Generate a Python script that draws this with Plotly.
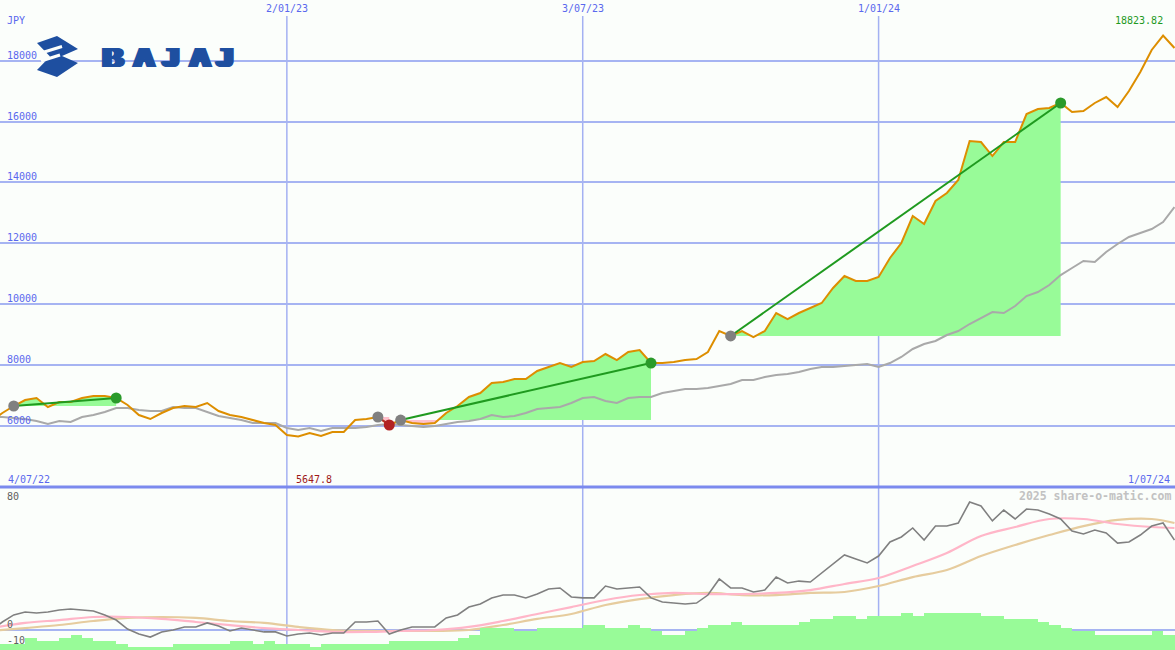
import numpy as np
import pandas as pd
import plotly.graph_objects as go

W, H = 1175, 650

# ---------------- data (weekly) ----------------
start_date = "2022-07-04"
price = [6155, 6418, 6648, 6845, 6911, 6615, 6779, 6779, 6911, 6976,
         6976, 6911, 6681, 6352, 6220, 6418, 6582, 6648, 6615, 6746,
         6483, 6352, 6286, 6187, 6089, 6023, 5694, 5647.8, 5760, 5662,
         5793, 5793, 6187, 6220, 6286, 6023, 6187, 6089, 6056, 6089,
         6418, 6648, 6944, 7075, 7404, 7437, 7535, 7535, 7798, 7930,
         8061, 7930, 8094, 8127, 8357, 8160, 8423, 8489, 8061, 8061,
         8094, 8160, 8193, 8423, 9113, 8950, 9113, 8916, 9113, 9705,
         9508, 9705, 9870, 10034, 10527, 10922, 10757, 10757, 10889, 11513,
         12007, 12894, 12631, 13387, 13650, 14078, 15360, 15327, 14867, 15327,
         15327, 16248, 16412, 16445, 16610, 16313, 16346, 16610, 16807, 16478,
         17004, 17629, 18352, 18823.82, 18418]
moving_avg = [6286, 6286, 6253, 6220, 6155, 6056, 6155, 6122, 6286, 6352,
              6450, 6582, 6582, 6516, 6483, 6483, 6615, 6582, 6582, 6450,
              6319, 6253, 6187, 6089, 6089, 6089, 5924, 5858, 5924, 5826,
              5924, 5924, 5924, 5957, 6023, 6056, 6023, 5990, 5957, 5990,
              6056, 6122, 6155, 6220, 6352, 6286, 6319, 6418, 6549, 6582,
              6615, 6746, 6911, 6944, 6812, 6746, 6911, 6944, 6944, 7075,
              7141, 7207, 7207, 7239, 7305, 7371, 7503, 7503, 7601, 7667,
              7700, 7766, 7864, 7930, 7930, 7963, 7996, 8029, 7930, 8061,
              8259, 8522, 8686, 8785, 8982, 9113, 9344, 9541, 9738, 9705,
              9935, 10264, 10395, 10625, 10954, 11185, 11415, 11382, 11711, 11974,
              12204, 12336, 12467, 12697, 13190]
oscillator = [0, 5.0, 9.4, 11.2, 10.6, 11.2, 12.5, 13.1, 12.5, 11.8,
              9.4, 6.2, 0.6, -2.5, -4.4, -1.2, 0, 1.9, 1.9, 4.4,
              2.5, -0.6, 1.2, 0, -1.2, -1.2, -3.7, -2.5, -1.9, -3.1,
              -1.9, -1.9, 5.0, 5.0, 5.6, -2.5, 0, 1.9, 1.9, 1.9,
              7.5, 9.4, 14.3, 16.2, 20.0, 21.8, 21.8, 20.0, 22.4, 25.6,
              26.2, 20.6, 20.0, 20.0, 27.4, 25.6, 26.2, 26.8, 20.0, 17.5,
              16.8, 16.2, 16.8, 21.8, 31.8, 26.2, 26.2, 23.7, 24.9, 33.0,
              29.3, 30.5, 29.9, 35.5, 41.1, 46.8, 44.3, 41.8, 46.1, 54.9,
              58.0, 63.6, 56.1, 64.8, 64.8, 66.7, 79.8, 77.3, 68.0, 74.8,
              69.2, 75.4, 74.8, 72.3, 69.2, 61.7, 59.9, 62.3, 60.5, 54.2,
              54.9, 59.2, 64.8, 66.7, 56.1]
smooth_week = [0, 3, 6, 9, 12, 15, 18, 21, 24, 27, 30, 33, 36, 39, 42, 45, 48, 51,
               54, 57, 60, 63, 66, 69, 72, 75, 78, 81, 84, 87, 90, 93, 96, 99, 102, 104]
osc_fast = [1.2, 4.4, 6.2, 8.1, 8.1, 6.9, 5.0, 3.1, 1.2, 0, -1.2, -1.2, -0.6, 0, 1.9, 5.6,
            10.0, 14.3, 18.7, 21.8, 23.1, 22.4, 22.4, 23.1, 24.9, 28.7, 32.4, 39.9, 48.0,
            58.6, 64.2, 69.2, 69.2, 66.1, 64.2, 63.6]
osc_slow = [-0.6, 1.2, 3.1, 5.6, 7.5, 8.1, 7.5, 5.6, 4.4, 1.9, 0, -0.6, -0.6, -0.6, 0, 3.1,
            6.9, 10.0, 15.6, 19.3, 21.8, 23.1, 21.8, 21.8, 23.1, 23.7, 27.4, 33.0, 37.4,
            46.1, 53.0, 59.2, 64.8, 68.6, 69.2, 66.7]
volume_level = [6, 6, 6, 12, 9, 9, 12, 15, 12, 9,
                9, 6, 3, 3, 3, 3, 6, 6, 6, 6,
                6, 9, 9, 6, 9, 6, 6, 6, 3, 6,
                6, 6, 6, 6, 6, 9, 9, 9, 9, 9,
                9, 12, 15, 22, 22, 22, 19, 19, 22, 22,
                22, 22, 25, 25, 22, 22, 25, 22, 19, 15,
                15, 19, 22, 25, 25, 28, 25, 25, 25, 25,
                25, 28, 31, 31, 34, 34, 31, 34, 34, 34,
                37, 34, 37, 37, 37, 37, 37, 34, 34, 31,
                31, 31, 28, 25, 22, 19, 19, 15, 15, 15,
                15, 15, 19, 15, 15]
entry_week = [2, 34, 36, 65]
exit_week = [11, 35, 58, 94]

price_ticks = [6000, 8000, 10000, 12000, 14000, 16000, 18000]
osc_labels = [80, 0, -10]
grid_dates = ["2023-01-02", "2023-07-03", "2024-01-01"]
grid_labels = ["2/01/23", "3/07/23", "1/01/24"]
first_label, last_label = "4/07/22", "1/07/24"

# ---------------- styling ----------------
BG = "#fbfefb"
GRID = "#a6b4f2"
LBL = "#5a68ee"
ORANGE = "#dd8e00"
FILL_G = "#98fb98"
FILL_P = "#ffc0cb"
MONO = "DejaVu Sans Mono"

dates = pd.date_range(start_date, periods=len(price), freq="7D")
x_left = pd.Timestamp(start_date) + pd.Timedelta(hours=133)
x_right = pd.Timestamp("2024-07-01 08:00")

fig = go.Figure()

# ---------------- top panel fills ----------------
def split_fill(xs, ys, base):
    tx = [xs[0].value]
    ty = [ys[0]]
    for i in range(1, len(ys)):
        y0, y1 = ys[i - 1], ys[i]
        if (y0 - base) * (y1 - base) < 0:
            t = (base - y0) / (y1 - y0)
            tx.append(xs[i - 1].value + t * (xs[i].value - xs[i - 1].value))
            ty.append(base)
        tx.append(xs[i].value)
        ty.append(y1)
    tx = [pd.Timestamp(int(v)) for v in tx]
    up = [max(v, base) for v in ty]
    lo = [min(v, base) for v in ty]
    px = tx + tx[::-1]
    return px, up + [base] * len(tx), lo + [base] * len(tx)

for e, x in zip(entry_week, exit_week):
    xs = list(dates[e:x + 1])
    ys = price[e:x + 1]
    base = price[e]
    px, up, lo = split_fill(xs, ys, base)
    fig.add_trace(go.Scatter(x=px, y=up, fill="toself", fillcolor=FILL_G,
                             line=dict(width=0), mode="lines", hoverinfo="skip"))
    fig.add_trace(go.Scatter(x=px, y=lo, fill="toself", fillcolor=FILL_P,
                             line=dict(width=0), mode="lines", hoverinfo="skip"))

# moving average and price
fig.add_trace(go.Scatter(x=dates, y=moving_avg, mode="lines",
                         line=dict(color="#a9a9a9", width=2)))
fig.add_trace(go.Scatter(x=dates, y=price, mode="lines",
                         line=dict(color=ORANGE, width=2)))

# trend lines and dots
for e, x in zip(entry_week, exit_week):
    win = price[x] >= price[e]
    fig.add_trace(go.Scatter(x=[dates[e], dates[x]], y=[price[e], price[x]], mode="lines",
                             line=dict(color="#1f9a1f" if win else "#b03030", width=2)))
for e, x in zip(entry_week, exit_week):
    win = price[x] >= price[e]
    fig.add_trace(go.Scatter(x=[dates[e]], y=[price[e]], mode="markers",
                             marker=dict(color="#808080", size=11)))
    fig.add_trace(go.Scatter(x=[dates[x]], y=[price[x]], mode="markers",
                             marker=dict(color="#2a9a2a" if win else "#b22222", size=11)))

# ---------------- bottom panel ----------------
fig.add_trace(go.Bar(x=dates, y=volume_level, yaxis="y3", marker=dict(color=FILL_G, line=dict(width=0)),
                     width=7 * 24 * 3600 * 1000, offset=0))
sdates = [dates[i] for i in smooth_week]
fig.add_trace(go.Scatter(x=sdates, y=osc_slow, yaxis="y2", mode="lines",
                         line=dict(color="#e6cc9e", width=2.2, shape="spline")))
fig.add_trace(go.Scatter(x=sdates, y=osc_fast, yaxis="y2", mode="lines",
                         line=dict(color="#ffb6c8", width=2.2, shape="spline")))
fig.add_trace(go.Scatter(x=dates, y=oscillator, yaxis="y2", mode="lines",
                         line=dict(color="#808080", width=1.6)))

split = 163 / H
fig.update_layout(
    width=W, height=650, margin=dict(l=0, r=0, t=0, b=0, pad=0),
    paper_bgcolor=BG, plot_bgcolor=BG, showlegend=False, bargap=0,
    xaxis=dict(range=[x_left, x_right], showgrid=False, zeroline=False, showticklabels=False,
               showline=False, ticks=""),
    yaxis=dict(domain=[split, 1], range=[3985, 19996], tickvals=price_ticks, showticklabels=False,
               gridcolor=GRID, gridwidth=2, zeroline=False, ticks=""),
    yaxis2=dict(domain=[0, split], range=[-12.47, 89.15], tickvals=[0], showticklabels=False,
                gridcolor=GRID, gridwidth=2, zeroline=False, ticks=""),
    yaxis3=dict(domain=[0, split], range=[0, 163], overlaying="y2", showgrid=False,
                showticklabels=False, zeroline=False, ticks=""),
)

# vertical grid lines and separator
for d in grid_dates:
    fig.add_shape(type="line", xref="x", yref="paper", x0=d, x1=d, y0=0, y1=1 - 16 / H,
                  line=dict(color="#a3b1f2", width=1.5), layer="below")
fig.add_shape(type="line", xref="paper", yref="paper", x0=0, x1=1, y0=split, y1=split,
              line=dict(color="#7b8aee", width=3), layer="above")

def ann(text, xp, yp, color, size=10, xanchor="left", bold=False, family=MONO, shadow=None):
    font = dict(family=family, size=size, color=color)
    if shadow:
        font["shadow"] = shadow
    fig.add_annotation(text=f"<b>{text}</b>" if bold else text, xref="paper", yref="paper",
                       x=xp / W, y=1 - yp / H, xanchor=xanchor, yanchor="middle", showarrow=False,
                       font=font)

# y tick labels (top panel)
for v in price_ticks:
    fig.add_annotation(text=str(v), xref="paper", yref="y", x=5 / W, y=v, xanchor="left",
                       yanchor="bottom", yshift=-2, showarrow=False,
                       font=dict(family=MONO, size=10, color=LBL))
ann("JPY", 5, 20, LBL)
for d, t in zip(grid_dates, grid_labels):
    fig.add_annotation(text=t, xref="x", yref="paper", x=d, y=1 - 9 / H, xanchor="center",
                       yanchor="middle", showarrow=False, font=dict(family=MONO, size=10, color=LBL))
ann(first_label, 6, 479, LBL)
ann(last_label, 1172, 479, LBL, xanchor="right")

imin = int(np.argmin(price))
imax = int(np.argmax(price))
fig.add_annotation(text=f"{price[imin]}", xref="x", yref="paper", x=dates[imin], y=1 - 479 / H,
                   xanchor="left", yanchor="middle", xshift=-4, showarrow=False,
                   font=dict(family=MONO, size=10, color="#a01818"))
fig.add_annotation(text=f"{price[imax]:.2f}", xref="x", yref="paper", x=dates[imax], y=1 - 21 / H,
                   xanchor="right", yanchor="middle", xshift=2, showarrow=False,
                   font=dict(family=MONO, size=10, color="#1f9a1f"))

# bottom panel labels
for v in osc_labels:
    fig.add_annotation(text=str(v), xref="paper", yref="y2", x=5 / W, y=v, xanchor="left",
                       yanchor="bottom", yshift=-2, showarrow=False,
                       font=dict(family=MONO, size=10, color="#606060"))
ann("2025 share-o-matic.com", 1173, 496, "#c2c2c2", size=11.5, xanchor="right", bold=True)

# ---------------- logo ----------------
def P(x, y):
    return f"{x / W:.5f},{1 - y / H:.5f}"

LOGO = "#1e4fa0"
icon = [(37, 43), (57, 36), (78, 49), (62, 56), (78, 63), (57, 77), (37, 70), (50, 56.5)]
path = "M " + " L ".join(P(x, y) for x, y in icon) + " Z"
fig.add_shape(type="path", xref="paper", yref="paper", path=path, fillcolor=LOGO,
              line=dict(width=0), layer="above")
for (x0, y0, x1, y1) in [(41, 53, 62, 46.5), (41, 61, 60, 55)]:
    fig.add_shape(type="line", xref="paper", yref="paper", x0=x0 / W, y0=1 - y0 / H,
                  x1=x1 / W, y1=1 - y1 / H, line=dict(color=BG, width=3), layer="above")
logo_shadow = f"3px 0px 0px {LOGO}, -3px 0px 0px {LOGO}, 1.5px 0px 0px {LOGO}, -1.5px 0px 0px {LOGO}"
for ch, cx in zip("BAJAJ", [113, 144, 171, 200, 225]):
    ann(ch, cx, 57, LOGO, size=28, xanchor="center", bold=True, family="Liberation Sans",
        shadow=logo_shadow)

fig.write_html("out.html", config={"displayModeBar": False},
               post_script="document.body.style.margin='0px';document.body.style.overflow='hidden';")
